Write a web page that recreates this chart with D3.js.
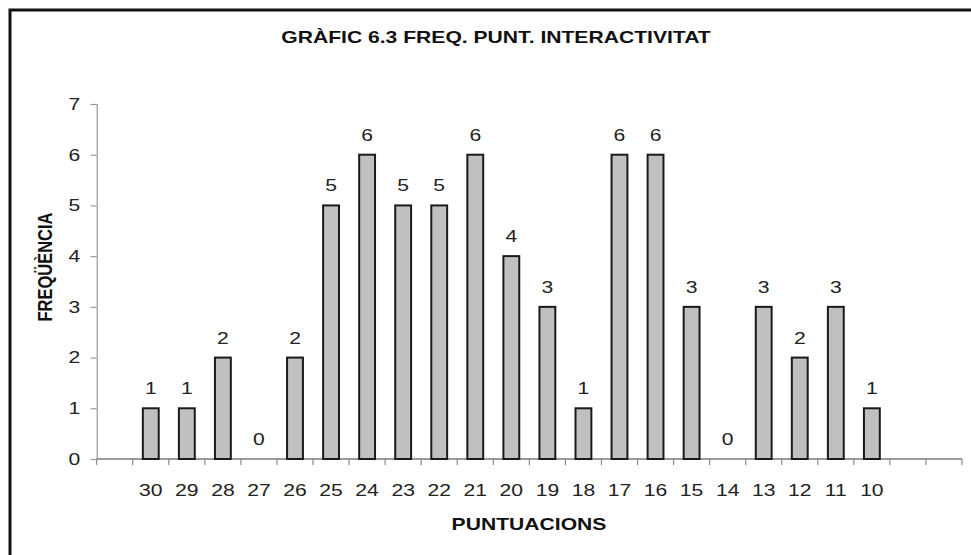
<!DOCTYPE html>
<html>
<head>
<meta charset="utf-8">
<script src="https://cdn.jsdelivr.net/npm/d3@7"></script>
<style>
  body { margin: 0; background: #fff; }
  svg { display: block; font-family: "Liberation Sans", Arial, sans-serif; }
</style>
</head>
<body>
<svg width="971" height="555"></svg>
<script>
// data
const categories = ['30', '29', '28', '27', '26', '25', '24', '23', '22', '21', '20',
                    '19', '18', '17', '16', '15', '14', '13', '12', '11', '10'];
const frequencies = [1, 1, 2, 0, 2, 5, 6, 5, 5, 6, 4, 3, 1, 6, 6, 3, 0, 3, 2, 3, 1];
const leadSlots = ['lead1'];
const trailSlots = ['trail1', 'trail2'];
const yTicks = [0, 1, 2, 3, 4, 5, 6, 7];

const title = 'GRÀFIC 6.3 FREQ. PUNT. INTERACTIVITAT';
const xTitle = 'PUNTUACIONS';
const yTitle = 'FREQÜÈNCIA';

const data = categories.map((c, i) => ({ category: c, value: frequencies[i] }));

const svg = d3.select('svg');
const stretch = 1.28; // the source picture is wider than tall
const fontSize = 16.5;

// outer frame
svg.append('rect')
    .attr('x', 10).attr('y', 10)
    .attr('width', 990).attr('height', 580)
    .attr('fill', 'none')
    .attr('stroke', '#111')
    .attr('stroke-width', 3);

const plot = { left: 96.7, right: 962, top: 104, bottom: 459 };

const xScale = d3.scaleBand()
    .domain([...leadSlots, ...categories, ...trailSlots])
    .range([plot.left, plot.right])
    .padding(0);

const yScale = d3.scaleLinear()
    .domain([0, 7])
    .range([plot.bottom, plot.top]);

const barWidth = xScale.bandwidth() * 0.44;

// y axis
const yAxis = d3.axisLeft(yScale).tickValues(yTicks).tickSize(6).tickFormat(d3.format('d'));
const gy = svg.append('g')
    .attr('transform', `translate(${plot.left},0)`)
    .call(yAxis);
gy.select('.domain').attr('stroke', '#9a9a9a').attr('stroke-width', 1.2);
gy.selectAll('.tick line').attr('stroke', '#9a9a9a').attr('stroke-width', 1.2);
gy.selectAll('.tick text')
    .attr('x', 0)
    .attr('transform', `translate(-16.5,0) scale(${stretch},1)`)
    .attr('fill', '#222')
    .attr('font-size', fontSize)
    .attr('font-family', '"Liberation Sans", Arial, sans-serif');

// x axis: labels centred, tick marks between categories
const xAxis = d3.axisBottom(xScale)
    .tickSize(0)
    .tickPadding(25)
    .tickFormat(d => categories.includes(d) ? d : '');
const gx = svg.append('g')
    .attr('transform', `translate(0,${plot.bottom})`)
    .call(xAxis);
gx.select('.domain').remove();
gx.selectAll('.tick text')
    .attr('transform', `scale(${stretch},1)`)
    .attr('fill', '#222')
    .attr('font-size', fontSize)
    .attr('font-family', '"Liberation Sans", Arial, sans-serif');

const edges = xScale.domain().map(d => xScale(d)).concat([plot.right]);
gx.selectAll('.edge').data(edges)
    .enter().append('line')
    .attr('class', 'edge')
    .attr('x1', d => d).attr('x2', d => d)
    .attr('y1', 0).attr('y2', 6)
    .attr('stroke', '#8a8a8a')
    .attr('stroke-width', 1.2);
gx.append('line')
    .attr('x1', plot.left).attr('x2', plot.right)
    .attr('y1', 0).attr('y2', 0)
    .attr('stroke', '#7a7a7a')
    .attr('stroke-width', 1.5);

// bars
svg.append('g').selectAll('rect').data(data.filter(d => d.value > 0))
    .enter().append('rect')
    .attr('x', d => xScale(d.category) + (xScale.bandwidth() - barWidth) / 2)
    .attr('y', d => yScale(d.value))
    .attr('width', barWidth)
    .attr('height', d => yScale(0) - yScale(d.value))
    .attr('fill', '#c0c0c0')
    .attr('stroke', '#1a1a1a')
    .attr('stroke-width', 2);

// value labels
svg.append('g').selectAll('text').data(data)
    .enter().append('text')
    .attr('transform', d => `translate(${xScale(d.category) + xScale.bandwidth() / 2},${yScale(d.value) - 14}) scale(${stretch},1)`)
    .attr('text-anchor', 'middle')
    .attr('font-size', fontSize)
    .attr('fill', '#222')
    .text(d => d.value);

// titles
svg.append('text')
    .attr('transform', `translate(496,43) scale(${stretch},1)`)
    .attr('text-anchor', 'middle')
    .attr('font-size', fontSize)
    .attr('font-weight', 'bold')
    .attr('fill', '#111')
    .text(title);

svg.append('text')
    .attr('transform', `translate(529,530) scale(${stretch},1)`)
    .attr('text-anchor', 'middle')
    .attr('font-size', fontSize)
    .attr('font-weight', 'bold')
    .attr('fill', '#111')
    .text(xTitle);

svg.append('text')
    .attr('transform', `translate(52,267) scale(${stretch},1) rotate(-90)`)
    .attr('text-anchor', 'middle')
    .attr('font-size', fontSize)
    .attr('font-weight', 'bold')
    .attr('fill', '#111')
    .text(yTitle);
</script>
</body>
</html>
